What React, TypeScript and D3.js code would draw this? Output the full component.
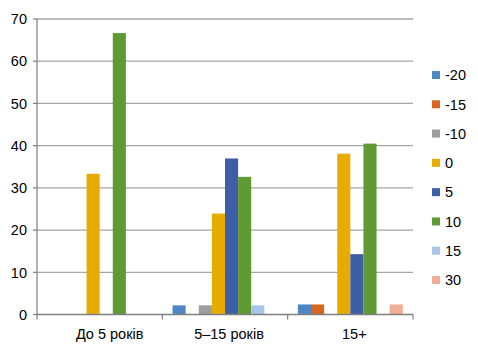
import React from "react";
import * as d3 from "d3";

const categories = ["До 5 років", "5–15 років", "15+"];
const seriesNames = ["-20", "-15", "-10", "0", "5", "10", "15", "30"];
const seriesColors = ["#4f86c4", "#d9661f", "#9e9e9e", "#e8ac00", "#3f5ea8", "#5f9a33", "#a8c4e8", "#f2ae95"];
// values per series, in category order
const vMinus20 = [0, 2.17, 2.38];
const vMinus15 = [0, 0, 2.38];
const vMinus10 = [0, 2.17, 0];
const v0 = [33.33, 23.91, 38.1];
const v5 = [0, 36.96, 14.29];
const v10 = [66.67, 32.61, 40.48];
const v15 = [0, 2.17, 0];
const v30 = [0, 0, 2.38];
const seriesValues = [vMinus20, vMinus15, vMinus10, v0, v5, v10, v15, v30];
const yTicks = [0, 10, 20, 30, 40, 50, 60, 70];

const W = 478;
const H = 354;
const FONT = "'Liberation Sans', Arial, sans-serif";

export default function App() {
  const left = 37, right = 413, top = 19, bottom = 314.5;
  const x0 = d3.scaleBand<string>().domain(categories).range([left, right]).padding(0);
  const x1 = d3
    .scaleBand<string>()
    .domain(seriesNames)
    .range([0, x0.bandwidth()])
    .paddingInner(0)
    .paddingOuter(0.78);
  const y = d3.scaleLinear().domain([0, 70]).range([bottom, top]);
  const legendY = d3.scalePoint<string>().domain(seriesNames).range([75, 280]);

  return (
    <svg width={W} height={H} style={{ position: "absolute", left: 0, top: 0 }} fontFamily={FONT}>
      <rect width={W} height={H} fill="#fff" />
      {yTicks.filter((t) => t > 0).map((t) => (
        <line key={t} x1={left} x2={right} y1={y(t)} y2={y(t)} stroke="#a6a6a6" strokeWidth={1.3} />
      ))}
      {categories.map((c, ci) =>
        seriesNames.map((s, si) => {
          const v = seriesValues[si][ci];
          if (!v) return null;
          return (
            <rect
              key={c + s}
              x={(x0(c) as number) + (x1(s) as number)}
              y={y(v)}
              width={x1.bandwidth()}
              height={bottom - y(v)}
              fill={seriesColors[si]}
            />
          );
        })
      )}
      {/* axes */}
      <line x1={left} x2={left} y1={top} y2={bottom} stroke="#7f7f7f" strokeWidth={1.2} />
      <line x1={left} x2={right} y1={bottom} y2={bottom} stroke="#7f7f7f" strokeWidth={1.5} />
      {yTicks.map((t) => (
        <g key={"yt" + t}>
          <line x1={left - 4} x2={left} y1={y(t)} y2={y(t)} stroke="#7f7f7f" strokeWidth={1.2} />
          <text x={27} y={y(t)} dy="0.36em" textAnchor="end" fontSize={14.5} fill="#000">
            {t}
          </text>
        </g>
      ))}
      {[...categories.map((c) => x0(c) as number), right].map((xv, i) => (
        <line key={"xt" + i} x1={xv} x2={xv} y1={bottom} y2={bottom + 5} stroke="#7f7f7f" strokeWidth={1.2} />
      ))}
      {categories.map((c, i) => (
        <text
          key={"xl" + c}
          x={(x0(c) as number) + x0.bandwidth() / 2 + (i === 0 ? 10 : 4)}
          y={339}
          textAnchor="middle"
          fontSize={14.5}
          fill="#000"
        >
          {c}
        </text>
      ))}
      {seriesNames.map((s, i) => (
        <g key={"lg" + s}>
          <rect x={432} y={(legendY(s) as number) - 4} width={8} height={8} fill={seriesColors[i]} />
          <text x={445} y={legendY(s) as number} dy="0.36em" fontSize={14.5} fill="#000">
            {s}
          </text>
        </g>
      ))}
    </svg>
  );
}
